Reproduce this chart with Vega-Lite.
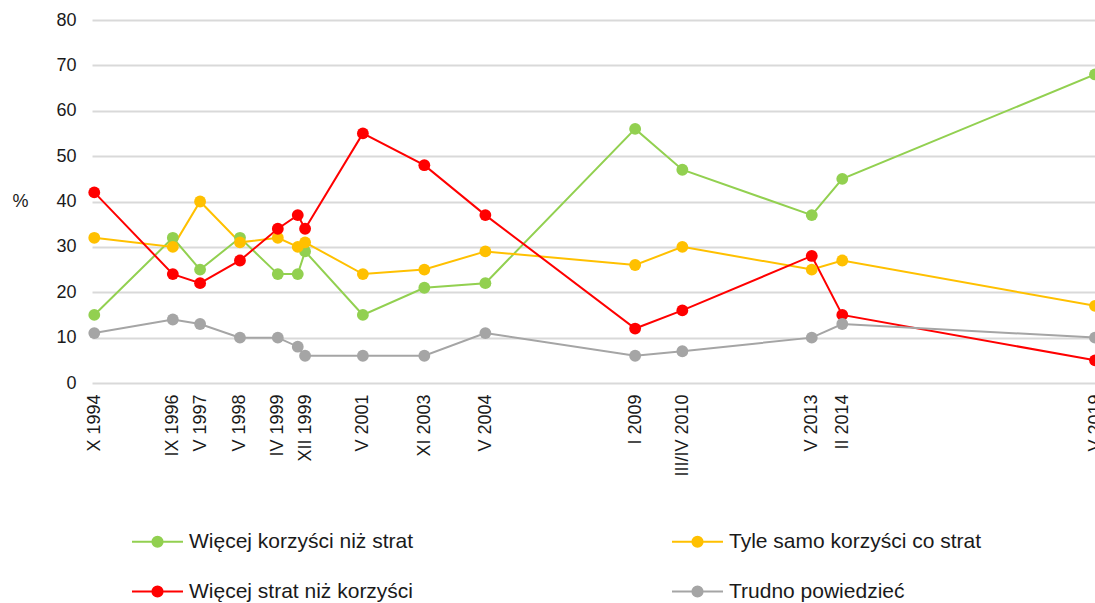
{
  "$schema": "https://vega.github.io/schema/vega-lite/v6.json",
  "autosize": {"type": "none"},
  "width": 1003,
  "height": 363,
  "padding": {"left": 92, "top": 20, "right": 0, "bottom": 220},
  "background": "white",
  "config": {
    "view": {"stroke": null},
    "font": "Liberation Sans",
    "axis": {"labelFont": "Liberation Sans", "titleFont": "Liberation Sans"},
    "legend": {"labelFont": "Liberation Sans"}
  },
  "data": {
    "values": [
      {"s": "Więcej korzyści niż strat", "t": 1994.79, "v": 15},
      {"s": "Więcej korzyści niż strat", "t": 1996.72, "v": 32},
      {"s": "Więcej korzyści niż strat", "t": 1997.39, "v": 25},
      {"s": "Więcej korzyści niż strat", "t": 1998.37, "v": 32},
      {"s": "Więcej korzyści niż strat", "t": 1999.30, "v": 24},
      {"s": "Więcej korzyści niż strat", "t": 1999.79, "v": 24},
      {"s": "Więcej korzyści niż strat", "t": 1999.97, "v": 29},
      {"s": "Więcej korzyści niż strat", "t": 2001.39, "v": 15},
      {"s": "Więcej korzyści niż strat", "t": 2002.90, "v": 21},
      {"s": "Więcej korzyści niż strat", "t": 2004.40, "v": 22},
      {"s": "Więcej korzyści niż strat", "t": 2008.08, "v": 56},
      {"s": "Więcej korzyści niż strat", "t": 2009.24, "v": 47},
      {"s": "Więcej korzyści niż strat", "t": 2012.42, "v": 37},
      {"s": "Więcej korzyści niż strat", "t": 2013.17, "v": 45},
      {"s": "Więcej korzyści niż strat", "t": 2019.38, "v": 68},
      {"s": "Tyle samo korzyści co strat", "t": 1994.79, "v": 32},
      {"s": "Tyle samo korzyści co strat", "t": 1996.72, "v": 30},
      {"s": "Tyle samo korzyści co strat", "t": 1997.39, "v": 40},
      {"s": "Tyle samo korzyści co strat", "t": 1998.37, "v": 31},
      {"s": "Tyle samo korzyści co strat", "t": 1999.30, "v": 32},
      {"s": "Tyle samo korzyści co strat", "t": 1999.79, "v": 30},
      {"s": "Tyle samo korzyści co strat", "t": 1999.97, "v": 31},
      {"s": "Tyle samo korzyści co strat", "t": 2001.39, "v": 24},
      {"s": "Tyle samo korzyści co strat", "t": 2002.90, "v": 25},
      {"s": "Tyle samo korzyści co strat", "t": 2004.40, "v": 29},
      {"s": "Tyle samo korzyści co strat", "t": 2008.08, "v": 26},
      {"s": "Tyle samo korzyści co strat", "t": 2009.24, "v": 30},
      {"s": "Tyle samo korzyści co strat", "t": 2012.42, "v": 25},
      {"s": "Tyle samo korzyści co strat", "t": 2013.17, "v": 27},
      {"s": "Tyle samo korzyści co strat", "t": 2019.38, "v": 17},
      {"s": "Więcej strat niż korzyści", "t": 1994.79, "v": 42},
      {"s": "Więcej strat niż korzyści", "t": 1996.72, "v": 24},
      {"s": "Więcej strat niż korzyści", "t": 1997.39, "v": 22},
      {"s": "Więcej strat niż korzyści", "t": 1998.37, "v": 27},
      {"s": "Więcej strat niż korzyści", "t": 1999.30, "v": 34},
      {"s": "Więcej strat niż korzyści", "t": 1999.79, "v": 37},
      {"s": "Więcej strat niż korzyści", "t": 1999.97, "v": 34},
      {"s": "Więcej strat niż korzyści", "t": 2001.39, "v": 55},
      {"s": "Więcej strat niż korzyści", "t": 2002.90, "v": 48},
      {"s": "Więcej strat niż korzyści", "t": 2004.40, "v": 37},
      {"s": "Więcej strat niż korzyści", "t": 2008.08, "v": 12},
      {"s": "Więcej strat niż korzyści", "t": 2009.24, "v": 16},
      {"s": "Więcej strat niż korzyści", "t": 2012.42, "v": 28},
      {"s": "Więcej strat niż korzyści", "t": 2013.17, "v": 15},
      {"s": "Więcej strat niż korzyści", "t": 2019.38, "v": 5},
      {"s": "Trudno powiedzieć", "t": 1994.79, "v": 11},
      {"s": "Trudno powiedzieć", "t": 1996.72, "v": 14},
      {"s": "Trudno powiedzieć", "t": 1997.39, "v": 13},
      {"s": "Trudno powiedzieć", "t": 1998.37, "v": 10},
      {"s": "Trudno powiedzieć", "t": 1999.30, "v": 10},
      {"s": "Trudno powiedzieć", "t": 1999.79, "v": 8},
      {"s": "Trudno powiedzieć", "t": 1999.97, "v": 6},
      {"s": "Trudno powiedzieć", "t": 2001.39, "v": 6},
      {"s": "Trudno powiedzieć", "t": 2002.90, "v": 6},
      {"s": "Trudno powiedzieć", "t": 2004.40, "v": 11},
      {"s": "Trudno powiedzieć", "t": 2008.08, "v": 6},
      {"s": "Trudno powiedzieć", "t": 2009.24, "v": 7},
      {"s": "Trudno powiedzieć", "t": 2012.42, "v": 10},
      {"s": "Trudno powiedzieć", "t": 2013.17, "v": 13},
      {"s": "Trudno powiedzieć", "t": 2019.38, "v": 10}
    ]
  },
  "encoding": {
    "x": {
      "field": "t",
      "type": "quantitative",
      "scale": {"domain": [1994.734, 2019.38], "nice": false, "zero": false},
      "axis": {
        "title": null,
        "grid": false,
        "domain": false,
        "ticks": false,
        "labelAngle": -90,
        "labelFontSize": 18,
        "labelColor": "#1a1a1a",
        "labelPadding": 11,
        "labelOverlap": false,
        "labelFlush": false,
        "values": [1994.79, 1996.72, 1997.39, 1998.37, 1999.30, 1999.97, 2001.39, 2002.90, 2004.40, 2008.08, 2009.24, 2012.42, 2013.17, 2019.38],
        "labelExpr": "datum.value == 1994.79 ? 'X 1994' : datum.value == 1996.72 ? 'IX 1996' : datum.value == 1997.39 ? 'V 1997' : datum.value == 1998.37 ? 'V 1998' : datum.value == 1999.30 ? 'IV 1999' : datum.value == 1999.97 ? 'XII 1999' : datum.value == 2001.39 ? 'V 2001' : datum.value == 2002.90 ? 'XI 2003' : datum.value == 2004.40 ? 'V 2004' : datum.value == 2008.08 ? 'I 2009' : datum.value == 2009.24 ? 'III/IV 2010' : datum.value == 2012.42 ? 'V 2013' : datum.value == 2013.17 ? 'II 2014' : datum.value == 2019.38 ? 'V 2019' : ''"
      }
    },
    "y": {
      "field": "v",
      "type": "quantitative",
      "scale": {"domain": [0, 80], "nice": false},
      "axis": {
        "values": [0, 10, 20, 30, 40, 50, 60, 70, 80],
        "title": "%",
        "titleAngle": 0,
        "titleX": -72,
        "titleY": 181,
        "titleAlign": "center",
        "titleBaseline": "middle",
        "titleFontSize": 18,
        "titleFontWeight": "normal",
        "titleColor": "#1a1a1a",
        "domain": false,
        "ticks": false,
        "labelFontSize": 18,
        "labelColor": "#1a1a1a",
        "labelPadding": 16,
        "gridColor": "#d9d9d9",
        "gridWidth": 2
      }
    },
    "color": {
      "field": "s",
      "type": "nominal",
      "scale": {
        "domain": ["Więcej korzyści niż strat", "Tyle samo korzyści co strat", "Więcej strat niż korzyści", "Trudno powiedzieć"],
        "range": ["#92d050", "#ffc000", "#ff0000", "#a5a5a5"]
      },
      "legend": {
        "title": null,
        "orient": "none",
        "direction": "horizontal",
        "legendX": 39,
        "legendY": 495,
        "columns": 2,
        "columnPadding": 254,
        "rowPadding": 13,
        "labelFontSize": 21,
        "labelLimit": 0,
        "labelColor": "#1a1a1a",
        "labelOffset": 5,
        "symbolType": "M-1,0H1M0.2,0A0.2,0.2,0,1,1,-0.2,0A0.2,0.2,0,1,1,0.2,0Z",
        "symbolSize": 2601,
        "symbolStrokeWidth": 2,
        "encode": {
          "symbols": {
            "update": {
              "fill": {"scale": "color", "field": "value"},
              "stroke": {"scale": "color", "field": "value"}
            }
          }
        }
      }
    }
  },
  "layer": [
    {"mark": {"type": "line", "strokeWidth": 2}},
    {"mark": {"type": "point", "filled": true, "size": 140, "opacity": 1}}
  ]
}
